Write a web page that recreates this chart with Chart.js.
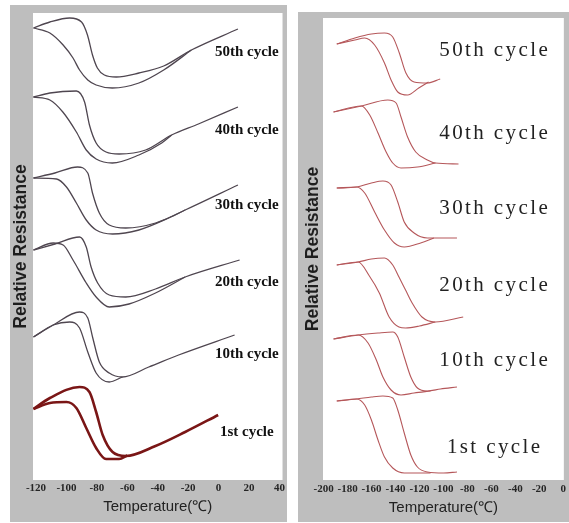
<!DOCTYPE html>
<html>
<head>
<meta charset="utf-8">
<script src="https://cdn.jsdelivr.net/npm/chart.js@4.4.0/dist/chart.umd.min.js"></script>
<style>
    body { margin: 0; background: #fff; }
    .panel { position: absolute; background: #bebebe; }
    .panel canvas { display: block; }
    #left-panel { left: 10px; top: 5px; width: 277px; height: 517px; }
    #right-panel { left: 298px; top: 12px; width: 271px; height: 510px; }
</style>
</head>
<body>
<div class="panel" id="left-panel"><canvas id="left-chart" width="277" height="517"></canvas></div>
<div class="panel" id="right-panel"><canvas id="right-chart" width="271" height="510"></canvas></div>
<script>
const cycleNames = ["50th cycle", "40th cycle", "30th cycle", "20th cycle", "10th cycle", "1st cycle"];
const leftTicks = [-120, -100, -80, -60, -40, -20, 0, 20, 40];
const rightTicks = [-200, -180, -160, -140, -120, -100, -80, -60, -40, -20, 0];

// left panel: [temperature, relative resistance (a.u., curves stacked)]
const left50Up = [[-121.7,45.2],[-110.9,45.8],[-97.9,46.2],[-90.1,45.8],[-86.2,44.5],[-82.9,42.5],[-79.7,41.2],[-75.1,40.5],[-67.3,40.3],[-52.4,40.7],[-36.1,41.4],[-17.9,43.0],[12.7,45.1]];
const left50Down = [[-121.7,45.2],[-110.9,44.7],[-102.2,43.5],[-95.7,42.2],[-91.4,41.0],[-86.0,40.0],[-80.5,39.5],[-69.9,39.2],[-52.4,39.7],[-36.1,41.0],[-17.9,43.0]];
const left40Up = [[-121.7,38.3],[-110.9,38.7],[-93.5,38.9],[-88.1,37.8],[-84.9,35.5],[-80.5,33.7],[-74.0,32.8],[-65.4,32.6],[-48.0,33.0],[-30.9,34.5],[-13.3,35.6],[12.7,37.3]];
const left40Down = [[-121.7,38.3],[-110.9,38.0],[-102.4,36.8],[-93.5,34.8],[-87.0,33.0],[-80.5,32.1],[-69.9,31.7],[-52.4,32.5],[-37.4,33.7],[-30.9,34.5]];
const left30Up = [[-121.7,30.2],[-107.6,30.7],[-92.7,31.3],[-86.0,30.7],[-82.9,28.7],[-78.4,26.7],[-71.9,25.5],[-61.0,25.2],[-41.5,25.7],[-22.0,27.0],[12.7,29.5]];
const left30Down = [[-121.7,30.2],[-106.5,30.1],[-100.0,29.3],[-93.5,27.7],[-87.0,26.0],[-80.5,25.0],[-69.7,24.6],[-52.4,25.0],[-32.8,26.2],[-22.0,27.0]];
const left20Up = [[-121.7,23.0],[-107.6,23.6],[-91.4,24.3],[-87.0,23.3],[-83.8,21.3],[-79.5,19.7],[-71.9,18.5],[-61.0,18.3],[-41.5,19.1],[-22.0,20.3],[13.8,22.0]];
const left20Down = [[-121.7,23.0],[-108.7,23.7],[-102.2,23.5],[-95.7,22.0],[-87.0,19.7],[-80.5,18.3],[-71.9,17.3],[-58.9,17.6],[-41.5,18.7],[-22.0,20.3]];
const left10Up = [[-121.7,14.3],[-108.7,15.5],[-91.4,16.8],[-86.0,16.2],[-82.7,14.2],[-78.4,11.8],[-71.9,10.7],[-63.2,10.3],[-45.9,11.3],[-26.3,12.5],[10.5,14.5]];
const left10Down = [[-121.7,14.3],[-108.7,15.5],[-97.9,15.8],[-91.4,15.2],[-86.0,12.8],[-80.5,10.7],[-71.9,9.8],[-63.2,10.3]];
const left1Up = [[-121.7,7.1],[-110.9,8.2],[-91.4,9.3],[-84.9,8.8],[-80.5,6.8],[-76.2,4.5],[-69.7,2.8],[-61.0,2.4],[-41.5,3.4],[-22.0,4.8],[-0.3,6.5]];
const left1Down = [[-121.7,7.1],[-110.9,7.7],[-100.0,7.8],[-93.5,7.2],[-87.0,5.2],[-80.5,3.2],[-74.0,2.1],[-65.4,2.1],[-60.0,2.45]];

// right panel
const right50Up = [[-189.0,43.6],[-173.9,44.2],[-160.1,44.6],[-149.2,44.7],[-142.3,44.3],[-136.8,42.7],[-131.3,40.7],[-124.5,39.8],[-113.4,39.7],[-102.7,40.1]];
const right50Down = [[-189.0,43.6],[-173.9,44.0],[-165.7,44.2],[-157.4,43.5],[-149.2,41.7],[-143.7,40.0],[-138.1,38.8],[-129.9,38.5],[-120.6,39.2],[-112.4,39.8]];
const right40Up = [[-191.7,36.8],[-168.4,37.4],[-146.4,38.0],[-139.5,37.7],[-135.4,36.3],[-129.9,34.3],[-123.1,32.8],[-113.4,32.0],[-106.6,31.7],[-87.4,31.6]];
const right40Down = [[-191.7,36.8],[-168.4,37.4],[-161.5,36.5],[-154.6,34.7],[-147.8,32.8],[-142.3,31.7],[-135.4,31.2],[-121.7,31.3],[-106.6,31.7]];
const right30Up = [[-189.0,29.2],[-172.5,29.3],[-160.1,29.7],[-150.5,29.9],[-143.7,29.5],[-138.1,27.8],[-132.7,25.8],[-124.5,24.7],[-113.4,24.2],[-105.2,24.2],[-88.7,24.2]];
const right30Down = [[-189.0,29.2],[-172.5,29.3],[-165.7,28.7],[-157.4,26.8],[-149.2,25.0],[-140.9,23.7],[-132.7,23.3],[-119.0,23.7],[-108.0,24.2]];
const right20Up = [[-189.0,21.5],[-171.1,21.8],[-160.1,22.1],[-149.2,22.2],[-142.3,21.5],[-137.1,20.3],[-131.6,19.0],[-126.1,17.7],[-117.9,16.3],[-106.8,15.8],[-83.5,16.3]];
const right20Down = [[-189.0,21.5],[-171.1,21.8],[-161.8,20.4],[-153.5,18.7],[-145.3,16.3],[-137.1,15.3],[-131.6,15.2],[-120.0,15.4],[-106.8,15.8]];
const right10Up = [[-191.7,14.1],[-171.1,14.5],[-154.6,14.7],[-142.3,14.8],[-138.1,14.3],[-132.7,12.3],[-127.2,10.3],[-121.7,9.2],[-113.4,8.9],[-102.5,9.1],[-88.7,9.3]];
const right10Down = [[-191.7,14.1],[-171.1,14.5],[-162.9,13.7],[-156.0,12.0],[-150.5,10.3],[-143.7,9.0],[-135.4,8.5],[-124.5,8.7],[-110.7,8.9]];
const right1Up = [[-189.0,7.9],[-172.5,8.1],[-160.1,8.3],[-150.5,8.4],[-142.3,8.2],[-138.1,7.0],[-132.7,4.7],[-127.2,2.5],[-121.7,1.3],[-113.4,0.8],[-99.8,0.7],[-88.7,0.8]];
const right1Down = [[-189.0,7.9],[-172.5,8.1],[-165.7,7.5],[-160.1,6.0],[-154.6,4.0],[-149.2,2.3],[-142.3,1.2],[-132.7,0.7],[-119.0,0.7],[-110.7,0.7]];

const leftSeries = [left50Up, left50Down, left40Up, left40Down, left30Up, left30Down, left20Up, left20Down, left10Up, left10Down, left1Up, left1Down];
const rightSeries = [right50Up, right50Down, right40Up, right40Down, right30Up, right30Down, right20Up, right20Down, right10Up, right10Down, right1Up, right1Down];

function branch(points, color, width) {
    return {
        data: points.map(([x, y]) => ({ x, y })),
        borderColor: color,
        borderWidth: width,
        pointRadius: 0,
        fill: false,
        cubicInterpolationMode: "monotone"
    };
}

// white plot area + cycle names
function panelPlugin(labelX, labelY, font, color, spacing) {
    return {
        id: "panel",
        beforeDraw(chart) {
            const { ctx, chartArea: a } = chart;
            ctx.save();
            ctx.fillStyle = "#ffffff";
            ctx.fillRect(a.left, a.top, a.right - a.left, a.bottom - a.top);
            ctx.restore();
        },
        afterDatasetsDraw(chart) {
            const { ctx, scales } = chart;
            ctx.save();
            ctx.font = font;
            ctx.fillStyle = color;
            ctx.textAlign = "center";
            ctx.textBaseline = "middle";
            if (spacing) ctx.letterSpacing = spacing;
            cycleNames.forEach((name, i) => {
                ctx.fillText(name, scales.x.getPixelForValue(labelX), scales.y.getPixelForValue(labelY[i]));
            });
            ctx.restore();
        }
    };
}

function makeChart(id, datasets, cfg) {
    return new Chart(document.getElementById(id), {
        type: "line",
        data: { datasets },
        options: {
            responsive: false,
            animation: false,
            events: [],
            layout: { padding: { top: cfg.top, right: 2, left: 0, bottom: 0 } },
            plugins: { legend: { display: false }, tooltip: { enabled: false } },
            scales: {
                x: {
                    type: "linear",
                    min: cfg.xMin,
                    max: cfg.xMax,
                    afterFit: (s) => { s.height = cfg.xHeight; },
                    afterBuildTicks: (s) => { s.ticks = cfg.ticks.map(v => ({ value: v })); },
                    grid: { display: false, drawTicks: false },
                    border: { display: false },
                    ticks: {
                        autoSkip: false,
                        maxRotation: 0,
                        padding: cfg.tickPad,
                        color: "#262626",
                        font: { family: "Liberation Serif", size: 11, weight: "bold" },
                        callback: (v) => String(v)
                    },
                    title: {
                        display: true,
                        text: "Temperature(℃)",
                        color: "#222",
                        font: { family: "Liberation Sans", size: 15 },
                        padding: { top: 0, bottom: cfg.titlePad }
                    }
                },
                y: {
                    type: "linear",
                    min: 0,
                    max: cfg.yMax,
                    afterFit: (s) => { s.width = cfg.yWidth; },
                    grid: { display: false, drawTicks: false },
                    border: { display: false },
                    ticks: { display: false },
                    title: {
                        display: true,
                        text: "Relative Resistance",
                        color: "#1e1e1e",
                        font: { family: "Liberation Sans", size: 17.5, weight: "bold" },
                        padding: { top: cfg.yTitlePad, bottom: 0 }
                    }
                }
            }
        },
        plugins: [panelPlugin(cfg.labelX, cfg.labelY, cfg.labelFont, cfg.labelColor, cfg.spacing)]
    });
}

const leftSets = leftSeries.map((s, i) => i >= 10 ? branch(s, "#7a1616", 2.6) : branch(s, "#4f4650", 1.3));
const rightSets = rightSeries.map(s => branch(s, "#b5575a", 1.1));

makeChart("left-chart", leftSets, {
    top: 8, xMin: -122, xMax: 42, xHeight: 42, yWidth: 23, yMax: 46.7,
    ticks: leftTicks, tickPad: 2, titlePad: 6, yTitlePad: 0.8,
    labelX: 18.5, labelY: [42.8, 35.0, 27.5, 19.8, 12.6, 4.8],
    labelFont: "bold 15px 'Liberation Serif'", labelColor: "#111", spacing: null
});

makeChart("right-chart", rightSets, {
    top: 6, xMin: -200.5, xMax: 0.5, xHeight: 42, yWidth: 25, yMax: 46.2,
    ticks: rightTicks, tickPad: 3, titlePad: 5, yTitlePad: 4.3,
    labelX: -57.2, labelY: [43.0, 34.7, 27.2, 19.5, 12.0, 3.3],
    labelFont: "21px 'Liberation Serif'", labelColor: "#222", spacing: "2.4px"
});
</script>
</body>
</html>
